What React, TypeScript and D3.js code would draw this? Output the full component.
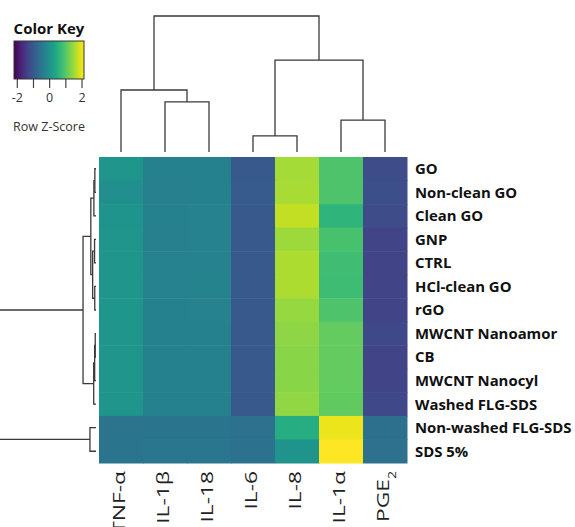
import React from "react";
import * as d3 from "d3";

// ---- data ----
const columns = ["TNF-α", "IL-1β", "IL-18", "IL-6", "IL-8", "IL-1α", "PGE_2"];
const rows = [
  "GO", "Non-clean GO", "Clean GO", "GNP", "CTRL", "HCl-clean GO", "rGO",
  "MWCNT Nanoamor", "CB", "MWCNT Nanocyl", "Washed FLG-SDS",
  "Non-washed FLG-SDS", "SDS 5%",
];
// row z-scores, columns in order above
const zGO = [0.10, -0.28, -0.28, -0.98, 1.61, 0.97, -1.19];
const zNonCleanGO = [-0.02, -0.30, -0.28, -0.95, 1.63, 0.97, -1.15];
const zCleanGO = [0.08, -0.28, -0.27, -0.98, 1.80, 0.67, -1.20];
const zGNP = [0.10, -0.30, -0.25, -0.98, 1.55, 0.92, -1.32];
const zCTRL = [0.10, -0.27, -0.27, -0.98, 1.65, 0.85, -1.32];
const zHClCleanGO = [0.10, -0.27, -0.24, -0.98, 1.65, 0.84, -1.32];
const zRGO = [0.12, -0.28, -0.27, -0.98, 1.50, 0.97, -1.32];
const zNanoamor = [0.10, -0.28, -0.28, -0.98, 1.45, 1.15, -1.25];
const zCB = [0.10, -0.28, -0.28, -0.98, 1.42, 1.15, -1.32];
const zNanocyl = [0.10, -0.28, -0.28, -0.98, 1.42, 1.15, -1.32];
const zWashed = [0.10, -0.28, -0.28, -0.98, 1.47, 1.12, -1.25];
const zNonWashed = [-0.53, -0.51, -0.51, -0.57, 0.53, 2.07, -0.60];
const zSDS = [-0.50, -0.48, -0.48, -0.55, 0.08, 2.30, -0.58];
const values = [zGO, zNonCleanGO, zCleanGO, zGNP, zCTRL, zHClCleanGO, zRGO,
  zNanoamor, zCB, zNanocyl, zWashed, zNonWashed, zSDS];

const keyTicks = [-2, -1, 0, 1, 2];
const keyTickLabels = [-2, 0, 2];
const colorDomain = [-2.2, 2.2];

// dendrograms: [left, right, height]; leaves are indices
type Node = number | [Node, Node, number];
const colTree: Node = [[0, [1, 2, 36.8], 45.6], [[3, 4, 11.8], [5, 6, 23.5], 67.6], 100];
const rowTree: Node = [
  [
    [
      [[0, 1, 1.2], 2, 2.2],
      [[3, 4, 1.5], [5, 6, 1.3], 3.5],
      5.4,
    ],
    [[[7, 8, 0.8], 9, 1.4], 10, 2.4],
    13.5,
  ],
  [11, 12, 6.3],
  115,
];

// ---- layout ----
const W = 575, H = 527;
const hmLeft = 99, hmRight = 407, hmTop = 157, hmBottom = 463;

const xBand = d3.scaleBand<number>().domain(d3.range(columns.length)).range([hmLeft, hmRight]);
const yBand = d3.scaleBand<number>().domain(d3.range(rows.length)).range([hmTop, hmBottom]);
const color = d3.scaleSequential(d3.interpolateViridis).domain(colorDomain).clamp(true);

const colH = d3.scaleLinear().domain([0, 100]).range([152, 16]);
const rowH = d3.scaleLinear().domain([0, 100]).range([96, 0]);
const keyX = d3.scaleLinear().domain([-2, 2]).range([17.3, 82]);

function build(node: Node, leafPos: (i: number) => number, paths: string[], horiz: boolean,
  hs: (h: number) => number): { pos: number; h: number } {
  if (typeof node === "number") return { pos: leafPos(node), h: 0 };
  const a = build(node[0], leafPos, paths, horiz, hs);
  const b = build(node[1], leafPos, paths, horiz, hs);
  const h = node[2];
  if (!horiz) {
    paths.push(`M${a.pos},${hs(a.h)}V${hs(h)}H${b.pos}V${hs(b.h)}`);
  } else {
    paths.push(`M${hs(a.h)},${a.pos}H${hs(h)}V${b.pos}H${hs(b.h)}`);
  }
  return { pos: (a.pos + b.pos) / 2, h };
}

function Label({ text }: { text: string }) {
  const parts = text.split("_");
  return (
    <>
      {parts[0]}
      {parts[1] && (
        <tspan fontSize="0.62em" baselineShift="sub">{parts[1]}</tspan>
      )}
    </>
  );
}

export default function App() {
  const colPaths: string[] = [];
  build(colTree, (i) => xBand(i)! + xBand.bandwidth() / 2, colPaths, false, colH);
  const rowPaths: string[] = [];
  build(rowTree, (i) => yBand(i)! + yBand.bandwidth() / 2, rowPaths, true, rowH);

  const gradStops = d3.range(0, 1.0001, 0.05);

  return (
    <svg width={W} height={H} style={{ position: "absolute", left: 0, top: 0, background: "#fff" }}
      fontFamily="'Open Sans', sans-serif">
      <defs>
        <linearGradient id="vir" x1="0" x2="1" y1="0" y2="0">
          {gradStops.map((t) => (
            <stop key={t} offset={t} stopColor={d3.interpolateViridis(t)} />
          ))}
        </linearGradient>
      </defs>

      {/* color key */}
      <text x={49} y={34} textAnchor="middle" fontWeight="bold" fontSize={15} fill="#111">Color Key</text>
      <rect x={14} y={41} width={70} height={38} fill="url(#vir)" stroke="#333" strokeWidth={1} />
      {keyTicks.map((t) => (
        <line key={t} x1={keyX(t)} x2={keyX(t)} y1={79} y2={88} stroke="#444" strokeWidth={1.2} />
      ))}
      {keyTickLabels.map((t) => (
        <text key={t} x={keyX(t)} y={102} textAnchor="middle" fontSize={12.5} fill="#333">{t}</text>
      ))}
      <text x={49} y={131} textAnchor="middle" fontSize={12.5} fill="#333">Row Z-Score</text>

      {/* heatmap */}
      {values.map((row, r) =>
        row.map((v, c) => (
          <rect key={`${r}-${c}`} x={xBand(c)} y={yBand(r)} width={xBand.bandwidth() + 0.5}
            height={yBand.bandwidth() + 0.5} fill={color(v)} />
        ))
      )}

      {/* dendrograms */}
      <g fill="none" stroke="#3a3a3a" strokeWidth={1.3}>
        {colPaths.map((d, i) => <path key={i} d={d} />)}
        {rowPaths.map((d, i) => <path key={i} d={d} />)}
      </g>

      {/* row labels */}
      {rows.map((r, i) => (
        <text key={r} x={415} y={yBand(i)! + yBand.bandwidth() / 2} dy="0.36em" fontSize={14.9}
          fontWeight="bold" fill="#111">{r}</text>
      ))}

      {/* column labels */}
      {columns.map((c, i) => (
        <text key={c} transform={`translate(${xBand(i)! + xBand.bandwidth() / 2 - 2},${471}) scale(1,1.38) rotate(-90)`}
          textAnchor="end" dy="0.36em" fontSize={16.5} fill="#222">
          <Label text={c} />
        </text>
      ))}
    </svg>
  );
}
